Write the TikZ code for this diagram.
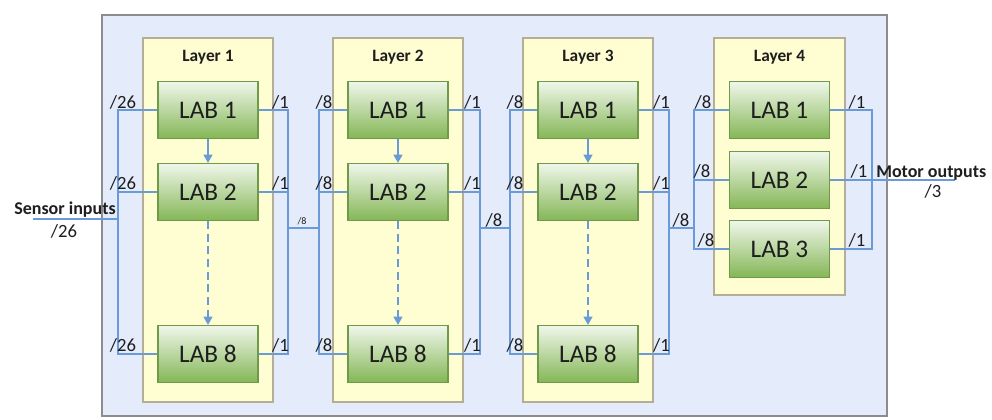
\documentclass[tikz,border=0pt]{standalone}
\usepackage{fontspec}
\setmainfont{Carlito}
\usetikzlibrary{arrows.meta,positioning,calc}
\definecolor{panelfill}{HTML}{E4EBFA}
\definecolor{paneledge}{HTML}{8C8C8C}
\definecolor{layerfill}{HTML}{FFFDD2}
\definecolor{layeredge}{HTML}{B4AE96}
\definecolor{labtop}{HTML}{F0F7EA}
\definecolor{labbot}{HTML}{84B656}
\definecolor{labedge}{HTML}{6E9A4A}
\definecolor{busblue}{HTML}{6A9BD8}
\definecolor{inktext}{HTML}{1E1E1E}
\tikzset{
  panel/.style={draw=paneledge, fill=panelfill, line width=1.1pt, inner sep=0pt},
  layerbox/.style={draw=layeredge, fill=layerfill, line width=0.8pt,
    minimum width=97.5pt, minimum height=273pt, inner sep=0pt},
  layertitle/.style={font=\fontsize{13}{15}\selectfont\bfseries, text=inktext},
  labbox/.style={draw=labedge, top color=labtop, bottom color=labbot, line width=0.9pt,
    minimum width=75pt, minimum height=42.75pt, inner sep=0pt,
    font=\fontsize{19}{22}\selectfont, text=inktext},
  bus/.style={busblue, line width=0.8pt},
  flow/.style={-{Triangle[length=2.2mm, width=2.4mm]}, busblue, line width=0.9pt},
  wlbl/.style={anchor=base, inner sep=0pt, font=\fontsize{14}{16}\selectfont, text=inktext},
  iolbl/.style={inner sep=0pt, font=\fontsize{13.5}{15}\selectfont\bfseries, text=inktext},
}

\begin{document}
\begin{tikzpicture}[x=0.75pt, y=-0.75pt]
  \useasboundingbox (0,0) rectangle (992,419);
  \node[panel, minimum width=588.75pt, minimum height=300.75pt] (board) at (494.5,215.5) {};

  % layers 1 to 3: LAB 1, LAB 2 ... LAB 8
  \foreach \k/\lx/\ix/\ox/\n in {1/208/118/288/26, 2/398/319/480/8, 3/588/510/669/8} {
    \node[layerbox] (L\k) at (\lx,220) {};
    \node[layertitle] (T\k) at (\lx,57) {Layer \k};
    \node[labbox] (L\k lab1) at (\lx,110) {LAB 1};
    \node[labbox] (L\k lab2) at (\lx,192) {LAB 2};
    \node[labbox] (L\k lab8) at (\lx,354) {LAB 8};
    \coordinate (in\k) at (\ix,228);
    \coordinate (out\k) at (\ox,228);
    \draw[flow] (L\k lab1) -- (L\k lab2);
    \draw[flow, dash pattern=on 6pt off 3.5pt] (L\k lab2) -- (L\k lab8);
    \draw[bus] (L\k lab1.west) -| (in\k) |- (L\k lab8.west);
    \draw[bus] (L\k lab2.west) -- (L\k lab2.west -| in\k);
    \draw[bus] (L\k lab1.east) -| (out\k) |- (L\k lab8.east);
    \draw[bus] (L\k lab2.east) -- (L\k lab2.east -| out\k);
    \foreach \r/\ry in {1/108, 2/189, 8/351} {
      \node[wlbl] (i\k\r) at (\ix+5,\ry) {/\n};
      \node[wlbl] (o\k\r) at (\ox-7.5,\ry) {/1};
    }
  }

  % layer 4
  \node[layerbox, minimum width=98.25pt, minimum height=192.75pt] (L4) at (779.5,166.5) {};
  \node[layertitle] (T4) at (779.5,57) {Layer 4};
  \foreach \r/\ry in {1/110, 2/180, 3/249}
    \node[labbox] (L4lab\r) at (779.5,\ry) {LAB \r};
  \coordinate (in4) at (694,228);
  \coordinate (out4) at (872,180);
  \draw[bus] (L4lab1.west) -| (in4) |- (L4lab3.west);
  \draw[bus] (L4lab2.west) -- (L4lab2.west -| in4);
  \draw[bus] (L4lab1.east) -| (out4) |- (L4lab3.east);
  \node[wlbl] (i41) at (703,108) {/8};
  \node[wlbl] (i42) at (702,177) {/8};
  \node[wlbl] (i43) at (706,246) {/8};
  \node[wlbl] (o41) at (857,108) {/1};
  \node[wlbl] (o42) at (859,177) {/1};
  \node[wlbl] (o43) at (857,246) {/1};

  % buses between layers
  \draw[bus] (out1) -- (in2);
  \draw[bus] (out2) -- (in3);
  \draw[bus] (out3) -- (in4);
  \node[wlbl, font=\fontsize{7.5}{9}\selectfont] (b12) at (302,224) {/8};
  \node[wlbl] (b23) at (494,226) {/8};
  \node[wlbl] (b34) at (681,226) {/8};

  % sensor inputs and motor outputs
  \coordinate (sens) at (33,219);
  \draw[bus] (sens) -- (sens -| in1);
  \node[iolbl, anchor=base] (sensor) at (65,214) {Sensor inputs};
  \node[wlbl] (s26) at (64,237) {/26};
  \coordinate (motor) at (955,180);
  \draw[bus] (L4lab2.east) -- (motor);
  \node[iolbl, anchor=base west] (motorlbl) at (876,177) {Motor outputs};
  \node[wlbl] (m3) at (933,197) {/3};
\end{tikzpicture}
\end{document}
